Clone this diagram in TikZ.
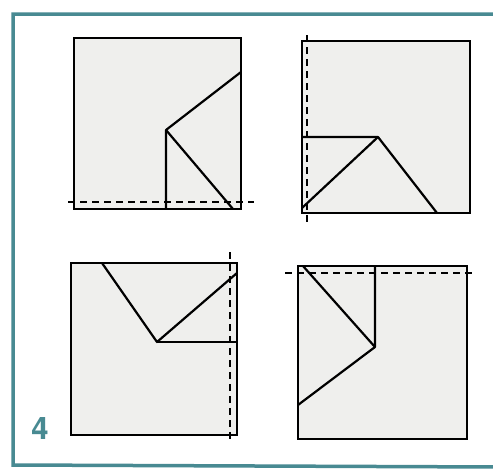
\documentclass[tikz,border=0pt]{standalone}
\usepackage{fontspec}
\setsansfont{TeX Gyre Heros}
\usepackage{tikz}
\definecolor{frameteal}{RGB}{72,138,146}
\definecolor{paper}{RGB}{239,239,237}

\begin{document}
\begin{tikzpicture}[x=1pt, y=-1pt,
    sheet/.style={draw, line width=2.2pt, fill=paper},
    fold/.style={line width=2.2pt, line join=round},
    crease/.style={line width=2.4pt, dash pattern=on 7pt off 5pt}]
    \useasboundingbox (0,0) rectangle (493,472);
    \fill[white] (0,0) rectangle (493,472);
    \draw[frameteal, line width=3.5pt] (500,14) -- (13,14) -- (13,465) -- (500,467);
    % top left
    \draw[sheet] (74,38) rectangle (241,209);
    \draw[fold] (166,209) -- (166,130) -- (241,72);
    \draw[fold] (166,130) -- (233,209);
    \draw[crease] (68,202) -- (254,202);
    % top right
    \draw[sheet] (302,41) rectangle (470,213);
    \draw[fold] (302,137) -- (378,137) -- (437,213);
    \draw[fold] (302,208) -- (378,137);
    \draw[crease] (307,35) -- (307,226);
    % bottom left
    \draw[sheet] (71,263) rectangle (237,435);
    \draw[fold] (102,263) -- (157,342) -- (237,273);
    \draw[fold] (157,342) -- (237,342);
    \draw[crease] (230,252) -- (230,442);
    % bottom right
    \draw[sheet] (298,266) rectangle (467,439);
    \draw[fold] (375,266) -- (375,347) -- (298,405);
    \draw[fold] (303,266) -- (375,347);
    \draw[crease] (285,273) -- (474,273);
    \node[text=frameteal, font=\sffamily\bfseries\fontsize{31}{31}\selectfont] (num) at (40,429) {4};
\end{tikzpicture}
\end{document}
